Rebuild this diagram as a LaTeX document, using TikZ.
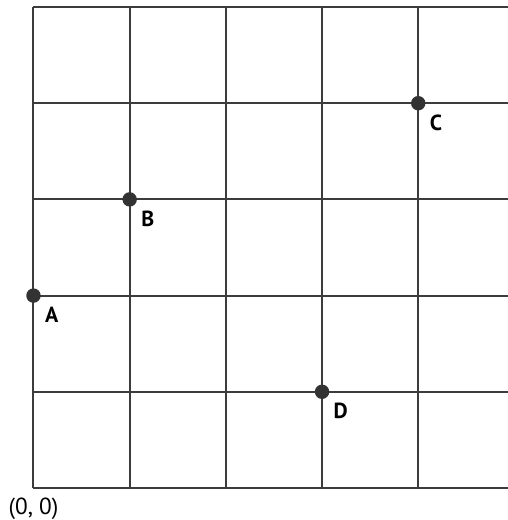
\documentclass[tikz,border=0pt]{standalone}
\usepackage{fontspec}
\setmainfont{PT Sans}
\usepackage{tikz}
\usetikzlibrary{positioning}
\definecolor{gridgray}{HTML}{3C3C3C}
\definecolor{dotgray}{HTML}{333333}
\tikzset{%
  gridline/.style={draw=gridgray, line width=1.4pt},
  pt/.style={circle, fill=dotgray, inner sep=0pt, minimum size=3.6mm},
  lbl/.style={inner sep=0pt, font=\fontsize{15.5}{18}\selectfont\bfseries, text=black}%
}

\begin{document}
\begin{tikzpicture}[x=2.4cm, y=2.4cm]

\useasboundingbox (-0.348,-0.333) rectangle (4.933,5.073);

% grid
\foreach \y in {0,...,5}
  \draw[gridline] (0,\y) -- (4.933,\y);
\foreach \x in {0,...,4}
  \draw[gridline] (\x,0) -- (\x,5);

\coordinate (origin) at (0,0);
\node[font=\fontsize{16.5}{19}\selectfont, inner sep=0pt, below=2.4mm of origin] (olabel) {(0,~0)};

% points
\node[pt] (a) at (0,2) {};
\node[pt] (b) at (1,3) {};
\node[pt] (c) at (4,4) {};
\node[pt] (d) at (3,1) {};

\node[lbl, below right=1.5mm and 1.5mm of a] (alabel) {A};
\node[lbl, below right=1.5mm and 1.5mm of b] (blabel) {B};
\node[lbl, below right=1.5mm and 1.5mm of c] (clabel) {C};
\node[lbl, below right=1.5mm and 1.5mm of d] (dlabel) {D};

\end{tikzpicture}
\end{document}
